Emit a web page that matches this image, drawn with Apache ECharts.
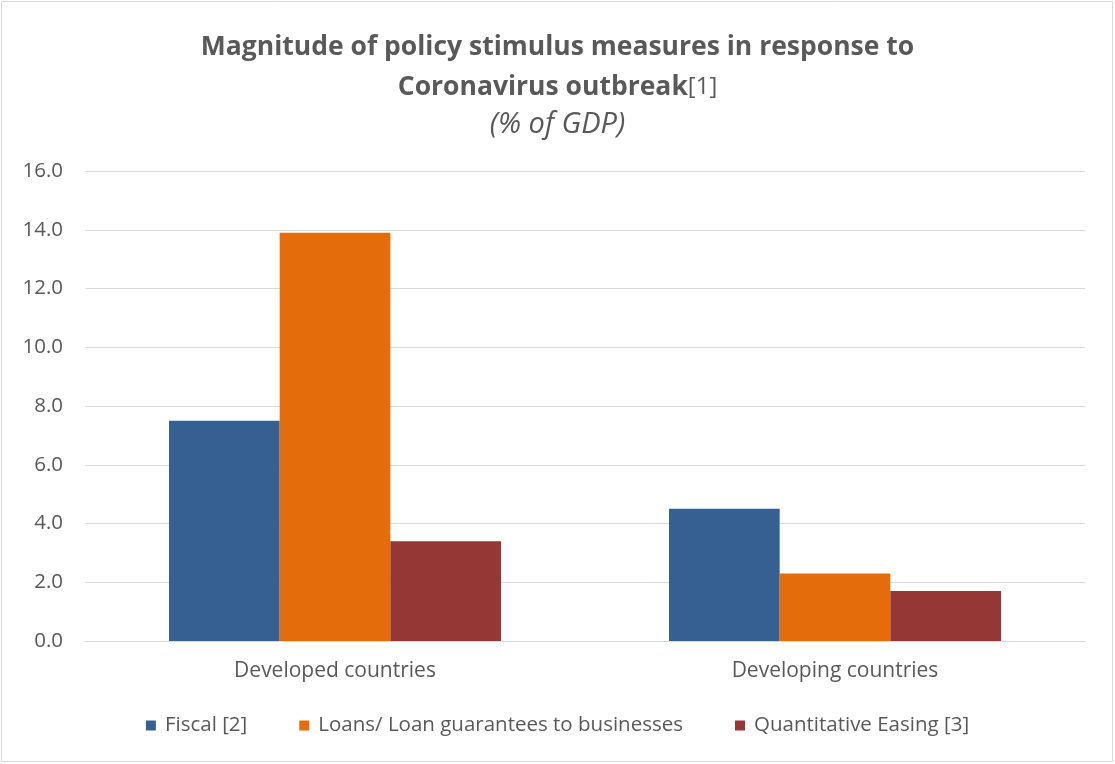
<!DOCTYPE html>
<html><head><meta charset="utf-8">
<script src="https://cdn.jsdelivr.net/npm/echarts@6/dist/echarts.min.js"></script>
<style>html,body{margin:0;padding:0;background:#fff}#c{width:1115px;height:764px}</style>
</head><body><div id="c"></div>
<script>
const categories = ['Developed countries', 'Developing countries'];
const seriesNames = ['Fiscal [2]', 'Loans/ Loan guarantees to businesses', 'Quantitative Easing [3]'];
const fiscal = [7.5, 4.5];
const loans = [13.9, 2.3];
const qe = [3.4, 1.7];
const yTicks = [0, 2, 4, 6, 8, 10, 12, 14, 16];
const colors = ['#376092', '#E46C0A', '#953735'];
const FONT = 'Open Sans';
const TXT = '#595959';
const chart = echarts.init(document.getElementById('c'));
chart.setOption({
  animation: false,
  color: colors,
  graphic: [{type:'rect', shape:{x:1.5,y:1.5,width:1111,height:760}, style:{fill:'none', stroke:'#d9d9d9', lineWidth:1}}],
  title: [
    {text: 'Magnitude of policy stimulus measures in response to', left: 'center', top: 29,
     textStyle: {fontFamily: FONT, fontWeight: 'bold', fontSize: 26.5, color: TXT}},
    {text: '{b|Coronavirus outbreak}{n|[1]}', left: 'center', top: 69,
     textStyle: {rich: {
       b: {fontFamily: FONT, fontWeight: 'bold', fontSize: 26.5, color: TXT},
       n: {fontFamily: FONT, fontWeight: 'normal', fontSize: 24, color: TXT}}}},
    {text: '(% of GDP)', left: 'center', top: 105,
     textStyle: {fontFamily: FONT, fontWeight: 'normal', fontStyle: 'italic', fontSize: 29, color: TXT}}
  ],
  legend: {
    bottom: 23, left: 'center', itemWidth: 10, itemHeight: 10, itemGap: 52, icon: 'rect',
    textStyle: {fontFamily: FONT, fontSize: 20.5, color: TXT, padding: [0, 0, 0, 4]},
    data: seriesNames
  },
  grid: {left: 85, right: 30, top: 171, bottom: 123},
  xAxis: {
    type: 'category', data: categories,
    axisLine: {lineStyle: {color: '#d9d9d9'}},
    axisTick: {show: false},
    axisLabel: {fontFamily: FONT, fontSize: 21, color: TXT, margin: 20}
  },
  yAxis: {
    type: 'value', min: 0, max: 16, interval: 2,
    axisLine: {show: false}, axisTick: {show: false},
    splitLine: {lineStyle: {color: '#d9d9d9'}},
    axisLabel: {fontFamily: FONT, fontSize: 20.5, color: TXT, margin: 22,
      formatter: v => yTicks.includes(v) ? v.toFixed(1) : ''}
  },
  series: [
    {name: seriesNames[0], type: 'bar', data: fiscal, barGap: '0%', barCategoryGap: '33.6%'},
    {name: seriesNames[1], type: 'bar', data: loans, barGap: '0%', barCategoryGap: '33.6%'},
    {name: seriesNames[2], type: 'bar', data: qe, barGap: '0%', barCategoryGap: '33.6%'}
  ]
});
</script></body></html>
